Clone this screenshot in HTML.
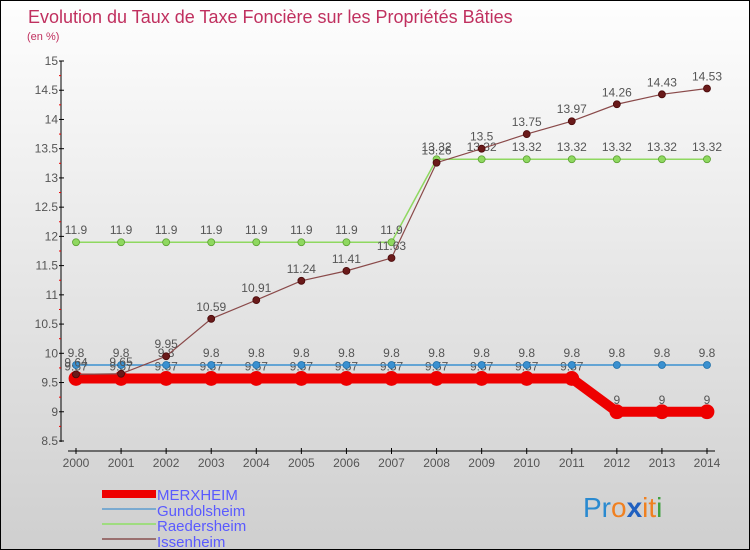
<!DOCTYPE html>
<html><head><meta charset="utf-8"><style>
body{margin:0}
#wrap{width:750px;height:550px;position:relative;box-sizing:border-box;border:1px solid #000;background:linear-gradient(#fefefe,#cfcfcf);font-family:"Liberation Sans",sans-serif;overflow:hidden}
text{font-family:"Liberation Sans",sans-serif}
</style></head><body>
<div id="wrap">
<svg id="chart" width="750" height="550">
<text x="27" y="22" font-size="18" fill="#c0305f">Evolution du Taux de Taxe Foncière sur les Propriétés Bâties</text>
<text x="26" y="39" font-size="11" fill="#c0305f">(en %)</text>
<g id="axes"></g><g id="series"></g>
<g>
<rect x="101" y="489" width="54" height="8" fill="#ee0000"/>
<text x="156" y="499" font-size="15" fill="#5a5aff">MERXHEIM</text>
<rect x="101" y="507" width="54" height="2" fill="#7aaad0"/>
<text x="156" y="515" font-size="15" fill="#5a5aff">Gundolsheim</text>
<rect x="101" y="522" width="54" height="2" fill="#9fdc80"/>
<text x="156" y="530" font-size="15" fill="#5a5aff">Raedersheim</text>
<rect x="101" y="537" width="54" height="2" fill="#9a7070"/>
<text x="156" y="546" font-size="15" fill="#5a5aff">Issenheim</text>
</g>
<text x="582" y="516" font-size="28"><tspan fill="#2a8ad0">Pr</tspan><tspan fill="#f08020">o</tspan><tspan fill="#2060c0" font-weight="bold">x</tspan><tspan fill="#f08020">i</tspan><tspan fill="#f08020">t</tspan><tspan fill="#40a040">i</tspan></text>
</svg>
</div>
<script>
const years=[2000,2001,2002,2003,2004,2005,2006,2007,2008,2009,2010,2011,2012,2013,2014];
const merxheim=[9.57,9.57,9.57,9.57,9.57,9.57,9.57,9.57,9.57,9.57,9.57,9.57,9,9,9];
const gundolsheim=[9.8,9.8,9.8,9.8,9.8,9.8,9.8,9.8,9.8,9.8,9.8,9.8,9.8,9.8,9.8];
const raedersheim=[11.9,11.9,11.9,11.9,11.9,11.9,11.9,11.9,13.32,13.32,13.32,13.32,13.32,13.32,13.32];
const issenheim=[9.64,9.65,9.95,10.59,10.91,11.24,11.41,11.63,13.26,13.5,13.75,13.97,14.26,14.43,14.53];
const yTicks=["8.5","9","9.5","10","10.5","11","11.5","12","12.5","13","13.5","14","14.5","15"];
const NS="http://www.w3.org/2000/svg";
const yMin=8.5,yMax=15,yTop=60,yBot=440,x0=75,x1=706;
const X=i=>x0+(x1-x0)*i/(years.length-1);
const Y=v=>yBot-(v-yMin)/(yMax-yMin)*(yBot-yTop);
function mk(tag,attrs,parent){const e=document.createElementNS(NS,tag);for(const k in attrs)e.setAttribute(k,attrs[k]);parent.appendChild(e);return e;}
const ax=document.getElementById('axes');
let l=mk('line',{x1:60,y1:yTop,x2:60,y2:yBot+1,stroke:'#000'},ax);


l=mk('line',{x1:x0-8,y1:450,x2:x1+8,y2:450,stroke:'#000'},ax);


yTicks.forEach((t,i)=>{const v=parseFloat(t),y=Y(v);
 mk('line',{x1:58,y1:y,x2:63,y2:y,stroke:'#000'},ax);
 if(i<yTicks.length-1)mk('line',{x1:58,y1:Y(v+0.25),x2:60,y2:Y(v+0.25),stroke:'#e00'},ax);
 const tx=mk('text',{x:57,y:y+4,'font-size':12,fill:'#555','text-anchor':'end'},ax);tx.textContent=t;
 
 });
years.forEach((yr,i)=>{const x=X(i);
 mk('line',{x1:x,y1:447,x2:x,y2:453,stroke:'#000'},ax);
 const tx=mk('text',{x:x,y:466,'font-size':12,fill:'#555','text-anchor':'middle'},ax);tx.textContent=yr;
 
 });
const sg=document.getElementById('series');
function series(name,vals,color,dot,w,r,stroke){
 const g=mk('g',{},sg);
 
 
 mk('polyline',{points:vals.map((v,i)=>X(i)+','+Y(v)).join(' '),fill:'none',stroke:color,'stroke-width':w},g);
 vals.forEach((v,i)=>{const c=mk('circle',{cx:X(i),cy:Y(v),r:r,fill:dot,stroke:stroke,'stroke-width':0.8},g);
  
  
  const t=mk('text',{x:X(i),y:Y(v)-8,'font-size':12,fill:'#555','text-anchor':'middle'},g);t.textContent=String(v);
  
  });
}
series('merxheim',merxheim,'#ee0000','#ee0000',10,7,'#ee0000');
series('gundolsheim',gundolsheim,'#3a90d0','#3a90d0',1.5,3.5,'#1d6fa8');
series('raedersheim',raedersheim,'#8fd860','#8fd860',1.5,3.5,'#5aa030');
series('issenheim',issenheim,'#8a4a4a','#6a1a1a',1.2,3.5,'#4a0a0a');
</script>
</body></html>
